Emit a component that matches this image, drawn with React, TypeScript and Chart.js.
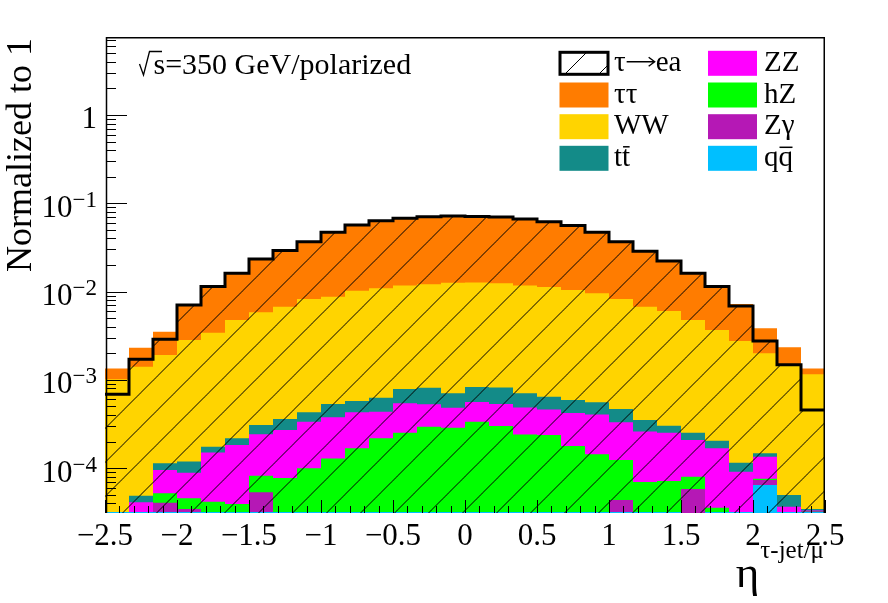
import React, { useEffect, useRef } from "react";
import { Chart, registerables } from "chart.js";

Chart.register(...registerables);

// ---- axis definition ----
const X_MIN = -2.5;
const X_MAX = 2.5;
const N_BINS = 30;
const X_MINOR_STEP = 0.1;
const Y_MIN = 3.11e-5;
const Y_MAX = 7.64;

const xTickValues = [-2.5, -2, -1.5, -1, -0.5, 0, 0.5, 1, 1.5, 2, 2.5];
const xTickLabels = ["\u22122.5", "\u22122", "\u22121.5", "\u22121", "\u22120.5", "0", "0.5", "1", "1.5", "2", "2.5"];
const yTickValues = [1e-4, 1e-3, 1e-2, 1e-1, 1];
const yTickBase = ["10", "10", "10", "10", "1"];
const yTickExp = ["\u22124", "\u22123", "\u22122", "\u22121", ""];

// ---- signal histogram (tau -> e a), normalized to 1 ----
const signalTauEA = [
  6.87e-4, 1.71e-3, 2.88e-3, 7.05e-3, 1.14e-2, 1.61e-2, 2.34e-2, 2.92e-2, 3.67e-2, 4.7e-2,
  5.68e-2, 6.35e-2, 6.76e-2, 7.05e-2, 7.18e-2, 7.1e-2, 7.0e-2, 6.64e-2, 6.19e-2, 5.61e-2,
  4.7e-2, 3.67e-2, 2.86e-2, 2.22e-2, 1.61e-2, 1.14e-2, 6.87e-3, 2.76e-3, 1.48e-3, 4.56e-4,
];

// ---- stacked backgrounds: height of the top of each layer of the stack ----
const stackTauTau = [
  1.35e-3, 2.32e-3, 3.52e-3, 7.24e-3, 1.16e-2, 1.6e-2, 2.3e-2, 2.9e-2, 3.62e-2, 4.65e-2,
  5.62e-2, 6.3e-2, 6.72e-2, 7.0e-2, 7.14e-2, 7.06e-2, 6.95e-2, 6.6e-2, 6.15e-2, 5.58e-2,
  4.68e-2, 3.65e-2, 2.85e-2, 2.25e-2, 1.66e-2, 1.17e-2, 7.24e-3, 3.84e-3, 2.34e-3, 1.35e-3,
];
const stackWW = [
  1.02e-3, 1.41e-3, 1.91e-3, 2.83e-3, 3.43e-3, 4.77e-3, 5.83e-3, 6.75e-3, 8.24e-3, 8.76e-3,
  1.02e-2, 1.09e-2, 1.17e-2, 1.21e-2, 1.26e-2, 1.27e-2, 1.24e-2, 1.17e-2, 1.13e-2, 1.04e-2,
  9.57e-3, 8.24e-3, 6.75e-3, 6.03e-3, 4.77e-3, 3.67e-3, 2.76e-3, 2.0e-3, 1.51e-3, 1.16e-3,
];
const stackTT = [
  3.2e-5, 4.89e-5, 1.14e-4, 1.19e-4, 1.75e-4, 2.18e-4, 3.08e-4, 3.61e-4, 4.3e-4, 5.33e-4,
  5.77e-4, 6.29e-4, 7.88e-4, 8.16e-4, 7.05e-4, 8.32e-4, 8.2e-4, 7.05e-4, 6.46e-4, 5.92e-4,
  5.57e-4, 4.68e-4, 3.52e-4, 3.03e-4, 2.52e-4, 2.05e-4, 1.15e-4, 1.48e-4, 4.98e-5, 3.45e-5,
];
const stackZZ = [
  3.2e-5, 4.11e-5, 9.55e-5, 8.89e-5, 1.51e-4, 1.83e-4, 2.42e-4, 2.71e-4, 3.36e-4, 3.77e-4,
  4.3e-4, 4.37e-4, 5.43e-4, 5.29e-4, 4.84e-4, 5.62e-4, 5.33e-4, 4.87e-4, 4.62e-4, 4.22e-4,
  4.07e-4, 3.31e-4, 2.61e-4, 2.52e-4, 2.09e-4, 1.68e-4, 9.12e-5, 1.35e-4, 3.66e-5, 3.32e-5,
];
const stackHZ = [
  3.2e-5, 3.2e-5, 5.2e-5, 4.56e-5, 4.18e-5, 3.93e-5, 8.22e-5, 7.75e-5, 9.97e-5, 1.29e-4,
  1.68e-4, 2.18e-4, 2.52e-4, 2.95e-4, 2.88e-4, 3.36e-4, 3.01e-4, 2.41e-4, 2.38e-4, 1.78e-4,
  1.44e-4, 1.24e-4, 6.98e-5, 7.16e-5, 8.02e-5, 3.57e-5, 3.2e-5, 7.6e-5, 3.2e-5, 3.28e-5,
];
const stackZGamma = [
  3.2e-5, 3.2e-5, 4.07e-5, 3.45e-5, 3.2e-5, 3.2e-5, 5.33e-5, 3.2e-5, 3.2e-5, 3.2e-5,
  3.2e-5, 3.2e-5, 3.2e-5, 3.2e-5, 3.2e-5, 3.2e-5, 3.2e-5, 3.2e-5, 3.2e-5, 3.2e-5,
  3.2e-5, 4.37e-5, 3.2e-5, 3.2e-5, 5.81e-5, 3.2e-5, 3.2e-5, 7.35e-5, 3.2e-5, 3.25e-5,
];
const stackQQ = [
  3.2e-5, 3.2e-5, 3.2e-5, 3.2e-5, 3.2e-5, 3.2e-5, 3.2e-5, 3.2e-5, 3.2e-5, 3.2e-5,
  3.2e-5, 3.2e-5, 3.2e-5, 3.2e-5, 3.2e-5, 3.2e-5, 3.2e-5, 3.2e-5, 3.2e-5, 3.2e-5,
  3.2e-5, 3.2e-5, 3.2e-5, 3.2e-5, 2.5e-5, 3.2e-5, 3.2e-5, 6.46e-5, 3.2e-5, 3.2e-5,
];

const COLORS = {
  tautau: "#FF7C00",
  ww: "#FFD400",
  tt: "#138B88",
  zz: "#FF00FF",
  hz: "#00FF00",
  zgamma: "#B518B5",
  qq: "#00BFFF",
};

const SERIF = '"Liberation Serif", "Times New Roman", serif';

const binEdges = Array.from({ length: N_BINS + 1 }, (_, i) => X_MIN + ((X_MAX - X_MIN) * i) / N_BINS);
const stepPoints = (vals: number[]) =>
  binEdges.map((x, i) => ({ x, y: vals[Math.min(i, vals.length - 1)] }));

function makeHatch(ctx: CanvasRenderingContext2D, offset: number): CanvasPattern {
  const s = 34;
  const tile = document.createElement("canvas");
  tile.width = s;
  tile.height = s;
  const g = tile.getContext("2d")!;
  g.strokeStyle = "#000";
  g.lineWidth = 1;
  g.beginPath();
  g.moveTo(-3, s + 3);
  g.lineTo(s + 3, -3);
  g.moveTo(-3, 3);
  g.lineTo(3, -3);
  g.moveTo(s - 3, s + 3);
  g.lineTo(s + 3, s - 3);
  g.stroke();
  const p = ctx.createPattern(tile, "repeat")!;
  p.setTransform(new DOMMatrix().translateSelf(offset, 0));
  return p;
}

function drawOverlined(ctx: CanvasRenderingContext2D, plain: string, barred: string, x: number, y: number, barY: number) {
  ctx.textAlign = "left";
  ctx.fillText(plain, x, y);
  const w1 = ctx.measureText(plain).width;
  ctx.fillText(barred, x + w1, y);
  const w2 = ctx.measureText(barred).width;
  ctx.save();
  ctx.lineWidth = 1.5;
  ctx.beginPath();
  ctx.moveTo(x + w1 + 1, barY);
  ctx.lineTo(x + w1 + w2 - 0.5, barY);
  ctx.stroke();
  ctx.restore();
}

export default function App() {
  const ref = useRef<HTMLCanvasElement | null>(null);

  useEffect(() => {
    const canvas = ref.current;
    if (!canvas) return;
    const ctx0 = canvas.getContext("2d")!;
    const hatch = makeHatch(ctx0, 23.5);
    const legendHatch = makeHatch(ctx0, 27);

    const rootStyle = {
      id: "rootStyle",
      beforeDatasetsDraw(chart: any) {
        const { ctx, chartArea: a } = chart;
        ctx.save();
        ctx.strokeStyle = "#777";
        ctx.lineWidth = 1;
        ctx.beginPath();
        ctx.moveTo(a.left, a.bottom - 0.5);
        ctx.lineTo(a.right, a.bottom - 0.5);
        ctx.stroke();
        ctx.restore();
      },
      afterDraw(chart: any) {
        const { ctx, chartArea: a, scales } = chart;
        const xs = scales.x;
        const ys = scales.y;
        ctx.save();
        ctx.strokeStyle = "#000";
        ctx.fillStyle = "#000";

        // frame (left, top, right)
        ctx.lineWidth = 1.5;
        ctx.beginPath();
        ctx.moveTo(a.left + 1.5, a.bottom);
        ctx.lineTo(a.left + 1.5, a.top + 0.75);
        ctx.lineTo(a.right - 0.75, a.top + 0.75);
        ctx.lineTo(a.right - 0.75, a.bottom);
        ctx.stroke();

        // x ticks (inside)
        ctx.lineWidth = 1;
        ctx.beginPath();
        const nMinor = Math.round((X_MAX - X_MIN) / X_MINOR_STEP);
        for (let i = 0; i <= nMinor; i++) {
          const v = X_MIN + i * X_MINOR_STEP;
          const px = Math.round(xs.getPixelForValue(v)) + 0.5;
          const len = i % 5 === 0 ? 13 : 7;
          ctx.moveTo(px, a.bottom);
          ctx.lineTo(px, a.bottom - len);
        }
        ctx.stroke();

        // y ticks (inside, log)
        ctx.beginPath();
        for (let d = -6; d <= 1; d++) {
          for (let k = 1; k <= 9; k++) {
            const v = k * Math.pow(10, d);
            if (v < Y_MIN || v > Y_MAX) continue;
            const py = Math.round(ys.getPixelForValue(v)) + 0.5;
            const len = k === 1 ? 21 : 10;
            ctx.moveTo(a.left + 1, py);
            ctx.lineTo(a.left + 1 + len, py);
          }
        }
        ctx.stroke();

        // x tick labels
        ctx.font = `31px ${SERIF}`;
        ctx.textAlign = "center";
        ctx.textBaseline = "alphabetic";
        xTickValues.forEach((v, i) => {
          ctx.fillText(xTickLabels[i], xs.getPixelForValue(v), 545);
        });

        // y tick labels
        yTickValues.forEach((v, i) => {
          const py = ys.getPixelForValue(v);
          const right = 97;
          let baseRight = right;
          ctx.textAlign = "right";
          if (yTickExp[i]) {
            ctx.font = `23px ${SERIF}`;
            ctx.fillText(yTickExp[i], right, py + 3.4);
            baseRight = right - ctx.measureText(yTickExp[i]).width;
          }
          ctx.font = `31px ${SERIF}`;
          ctx.fillText(yTickBase[i], baseRight, py + 13.4);
        });

        // y title
        ctx.save();
        ctx.translate(31, 38);
        ctx.rotate(-Math.PI / 2);
        ctx.font = `36px ${SERIF}`;
        ctx.textAlign = "right";
        ctx.fillText("Normalized to 1", 0, 0);
        ctx.restore();

        // x title: eta^{tau-jet/mu}
        ctx.font = `25px ${SERIF}`;
        ctx.textAlign = "right";
        const sup = "\u03C4-jet/\u03BC";
        ctx.fillText(sup, 824, 558);
        const supW = ctx.measureText(sup).width;
        ctx.font = `45px ${SERIF}`;
        ctx.fillText("\u03B7", 824 - supW - 1, 587);

        // sqrt(s) label
        ctx.save();
        ctx.lineWidth = 1.3;
        ctx.beginPath();
        ctx.moveTo(139.5, 64);
        ctx.lineTo(143.5, 75);
        ctx.lineTo(149.5, 51.5);
        ctx.lineTo(162, 51.5);
        ctx.stroke();
        ctx.restore();
        ctx.font = `30px ${SERIF}`;
        ctx.textAlign = "left";
        ctx.fillText("s=350 GeV/polarized", 153.5, 73.5);

        // legend
        const rows = [63.3, 95, 126.7, 158.3];
        const col1Box = 559.5;
        const col2Box = 708;
        const boxW = 49;
        const boxH = 25;
        const col1Text = 614;
        const col2Text = 764;
        const legFont = `29px ${SERIF}`;
        const textY = (r: number) => r + 7.5;

        // signal entry
        ctx.save();
        ctx.fillStyle = "#fff";
        ctx.fillRect(col1Box, rows[0] - boxH / 2 + 1, boxW, boxH - 2);
        ctx.beginPath();
        ctx.rect(col1Box, rows[0] - boxH / 2 + 1, boxW, boxH - 2);
        ctx.clip();
        ctx.fillStyle = legendHatch;
        ctx.fillRect(col1Box, rows[0] - boxH / 2 + 1, boxW, boxH - 2);
        ctx.restore();
        ctx.lineWidth = 3;
        ctx.strokeRect(col1Box + 0.5, rows[0] - boxH / 2 + 1.5, boxW - 1, boxH - 3);

        const fillEntries: [number, number, string][] = [
          [col1Box, rows[1], COLORS.tautau],
          [col1Box, rows[2], COLORS.ww],
          [col1Box, rows[3], COLORS.tt],
          [col2Box, rows[0], COLORS.zz],
          [col2Box, rows[1], COLORS.hz],
          [col2Box, rows[2], COLORS.zgamma],
          [col2Box, rows[3], COLORS.qq],
        ];
        fillEntries.forEach(([bx, r, c]) => {
          ctx.fillStyle = c;
          ctx.fillRect(bx, r - boxH / 2, boxW, boxH);
        });

        ctx.fillStyle = "#000";
        ctx.strokeStyle = "#000";
        ctx.font = legFont;
        ctx.textAlign = "left";
        // tau -> e a, with a drawn arrow between the glyphs
        ctx.fillText("\u03C4", col1Text, textY(rows[0]));
        const tauW = ctx.measureText("\u03C4").width;
        const arrX0 = col1Text + tauW + 1;
        const arrX1 = arrX0 + 28;
        const arrY = rows[0] - 1.5;
        ctx.save();
        ctx.lineWidth = 1.4;
        ctx.beginPath();
        ctx.moveTo(arrX0, arrY);
        ctx.lineTo(arrX1, arrY);
        ctx.moveTo(arrX1 - 6, arrY - 4.5);
        ctx.lineTo(arrX1, arrY);
        ctx.lineTo(arrX1 - 6, arrY + 4.5);
        ctx.stroke();
        ctx.restore();
        ctx.fillText("ea", arrX1 + 1, textY(rows[0]));
        ctx.fillText("\u03C4\u03C4", col1Text, textY(rows[1]));
        ctx.fillText("WW", col1Text, textY(rows[2]));
        drawOverlined(ctx, "t", "t", col1Text, textY(rows[3]), rows[3] - 11.5);
        ctx.fillText("ZZ", col2Text, textY(rows[0]));
        ctx.fillText("hZ", col2Text, textY(rows[1]));
        ctx.fillText("Z\u03B3", col2Text, textY(rows[2]));
        drawOverlined(ctx, "q", "q", col2Text, textY(rows[3]), rows[3] - 11);

        ctx.restore();
      },
    };

    const layer = (label: string, vals: number[], color: string) => ({
      label,
      data: stepPoints(vals),
      stepped: "before" as const,
      fill: "start" as const,
      backgroundColor: color,
      borderColor: "rgba(0,0,0,0)",
      borderWidth: 0,
      pointRadius: 0,
    });

    const chart = new Chart(canvas, {
      type: "line",
      data: {
        datasets: [
          {
            label: "\u03C4\u2192ea",
            data: stepPoints(signalTauEA),
            stepped: "before",
            fill: "start",
            backgroundColor: hatch,
            borderColor: "#000",
            borderWidth: 3,
            pointRadius: 0,
          } as any,
          layer("q\u0305q", stackQQ, COLORS.qq),
          layer("Z\u03B3", stackZGamma, COLORS.zgamma),
          layer("hZ", stackHZ, COLORS.hz),
          layer("ZZ", stackZZ, COLORS.zz),
          layer("tt\u0305", stackTT, COLORS.tt),
          layer("WW", stackWW, COLORS.ww),
          layer("\u03C4\u03C4", stackTauTau, COLORS.tautau),
        ],
      },
      options: {
        animation: false,
        responsive: false,
        events: [],
        layout: { padding: { left: 105, right: 63, top: 37, bottom: 90 } },
        plugins: {
          legend: { display: false },
          tooltip: { enabled: false },
          title: { display: false },
        },
        scales: {
          x: { type: "linear", min: X_MIN, max: X_MAX, display: false },
          y: { type: "logarithmic", min: Y_MIN, max: Y_MAX, display: false },
        },
      },
      plugins: [rootStyle],
    });

    return () => {
      chart.destroy();
    };
  }, []);

  return (
    <div style={{ position: "fixed", left: 0, top: 0, width: 888, height: 603, background: "#fff" }}>
      <canvas ref={ref} width={888} height={603} style={{ display: "block", width: 888, height: 603 }} />
    </div>
  );
}
